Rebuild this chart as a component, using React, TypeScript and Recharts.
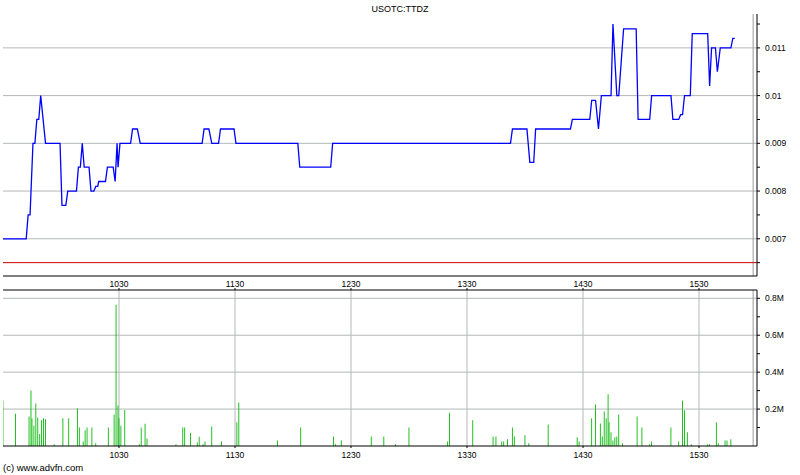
import React from "react";
import { LineChart, Line, BarChart, Bar, XAxis, YAxis, CartesianGrid, ReferenceLine } from "recharts";

// intraday USOTC:TTDZ — price on top, volume below. Times are minutes since midnight.
const priceTime = [
  570, 582, 583, 584, 585.5, 586.5, 587.5, 588.5, 589.5, 592, 599.5, 600.5, 602.5, 603.5, 608, 609, 610, 611, 612,
  614.5, 615.5, 617, 618, 619, 619.5, 623, 624, 627, 628, 629, 629.5, 630.5, 636, 637, 639.5, 641, 673, 674, 676.5,
  678, 681.5, 682.5, 689.5, 690.5, 722.5, 723.5, 739.5, 740.5, 832.5, 833.5, 841, 842.5, 844.5, 845.5, 863.5, 864.5,
  873.5, 874.5, 876.5, 878, 879.5, 884.5, 885.5, 887.5, 888.5, 891, 897.5, 898.5, 904.5, 905.5, 915.5, 916.5, 919.5,
  920.5, 921.5, 922.5, 925.5, 926.5, 934.5, 935.5, 936.5, 938.5, 939.5, 941, 946.5, 947.5, 948.5,
];
const priceValue = [
  0.007, 0.007, 0.0075, 0.0075, 0.009, 0.009, 0.0095, 0.0095, 0.01, 0.009, 0.009, 0.0077, 0.0077, 0.008, 0.008, 0.0085,
  0.0085, 0.009, 0.0085, 0.0085, 0.008, 0.008, 0.0081, 0.0081, 0.0082, 0.0082, 0.0085, 0.0085, 0.0082, 0.009, 0.0085,
  0.009, 0.009, 0.0093, 0.0093, 0.009, 0.009, 0.0093, 0.0093, 0.009, 0.009, 0.0093, 0.0093, 0.009, 0.009, 0.0085,
  0.0085, 0.009, 0.009, 0.0093, 0.0093, 0.0086, 0.0086, 0.0093, 0.0093, 0.0095, 0.0095, 0.0099, 0.0099, 0.0093, 0.01,
  0.01, 0.0115, 0.01, 0.01, 0.0114, 0.0114, 0.0095, 0.0095, 0.01, 0.01, 0.0095, 0.0095, 0.0096, 0.0096, 0.01, 0.01,
  0.0113, 0.0113, 0.0102, 0.011, 0.011, 0.0105, 0.011, 0.011, 0.0112, 0.0112,
];

const volTime = [
  570, 576.5, 583.5, 584.5, 585, 586, 587, 588, 589, 590, 591, 592, 596.5, 601, 604, 608.5, 609.5, 611.5, 612.5, 613.5,
  616, 618, 624.5, 627.5, 628.5, 629.5, 630, 631, 633, 640.5, 641.5, 643.5, 644.5, 659.5, 663, 664, 667, 670.5, 671.5,
  673.5, 674.5, 678, 683, 691, 692, 712, 724, 741, 742, 745, 760.5, 767, 773, 780, 800, 801, 813, 823.5, 825, 828, 829,
  831, 833.5, 834.5, 840, 842, 852, 867, 868, 874.5, 876.5, 879, 880, 881, 882, 883, 883.5, 884.5, 885.5, 886.5, 887.5,
  888.5, 890.5, 898, 900.5, 904.5, 905.5, 915.5, 919.5, 921.5, 922.5, 924, 926, 934.5, 935.5, 939, 940, 943.5, 944.5,
  946.5,
];
const volValue = [
  247000, 175000, 160000, 300000, 150000, 110000, 230000, 155000, 65000, 140000, 150000, 145000, 10000, 150000, 150000,
  205000, 100000, 25000, 85000, 100000, 100000, 15000, 100000, 170000, 765000, 220000, 150000, 110000, 195000, 10000,
  100000, 120000, 40000, 10000, 100000, 100000, 70000, 20000, 50000, 10000, 25000, 105000, 25000, 128000, 235000, 30000,
  100000, 52000, 10000, 30000, 52000, 52000, 10000, 100000, 25000, 180000, 140000, 52000, 52000, 25000, 25000, 36000,
  100000, 52000, 58000, 15000, 117000, 47000, 25000, 150000, 225000, 122000, 52000, 187000, 150000, 280000, 128000,
  74000, 30000, 47000, 52000, 170000, 15000, 160000, 100000, 10000, 25000, 100000, 25000, 247000, 193000, 74000, 10000,
  10000, 10000, 128000, 15000, 30000, 30000, 36000,
];

const hourTicks = [630, 690, 750, 810, 870, 930];
const priceTicks = [0.0065, 0.007, 0.0075, 0.008, 0.0085, 0.009, 0.0095, 0.01, 0.0105, 0.011, 0.0115];
const priceGrid = [0.007, 0.008, 0.009, 0.01, 0.011];
const volTicks = [100000, 200000, 300000, 400000, 500000, 600000, 700000, 800000];
const volGrid = [200000, 400000, 600000, 800000];
const prevClose = 0.0065;
const closeMarker = 958;

const FONT = "'Liberation Sans', Arial, sans-serif";
const GRID = "#b4b8b8";
const tick = { fontSize: 8.5, fill: "#000", fontFamily: FONT } as const;
const ink = { stroke: "#000" };
const X_DOMAIN: [number, number] = [570, 960];

const hhmm = (m: number) => `${Math.floor(m / 60)}${String(m % 60).padStart(2, "0")}`;
const priceFmt = (v: number) => (Math.abs(v * 1000 - Math.round(v * 1000)) < 1e-6 ? String(+v.toFixed(3)) : "");
const volFmt = (v: number) => (v % 200000 === 0 ? `${v / 1e6}M` : "");

const priceData = priceTime.map((t, i) => ({ t, p: priceValue[i] }));
const volData = volTime.map((t, i) => ({ t, v: volValue[i] }));

export default function App() {
  return (
    <div style={{ position: "absolute", left: 0, top: 0, width: 800, height: 475, background: "#fff", fontFamily: FONT }}>
      <div style={{ position: "absolute", left: 0, top: 4, width: 800, textAlign: "center", fontSize: 9, lineHeight: "10px" }}>
        USOTC:TTDZ
      </div>

      <div style={{ position: "absolute", left: 0, top: 0 }}>
        <LineChart width={800} height={290} data={priceData} margin={{ top: 14, right: 0, bottom: 0, left: 3 }}>
          <CartesianGrid horizontalValues={priceGrid} verticalValues={hourTicks} stroke={GRID} />
          <XAxis dataKey="t" type="number" domain={X_DOMAIN} ticks={hourTicks} allowDataOverflow
            tick={false} tickSize={2} height={14} axisLine={ink} tickLine={ink} />
          <XAxis xAxisId="top" dataKey="t" type="number" orientation="top" domain={X_DOMAIN} allowDataOverflow
            ticks={hourTicks} tick={false} tickLine={false} height={0} axisLine={ink} />
          <YAxis orientation="right" type="number" domain={[0.00622, 0.01171]} ticks={priceTicks} allowDataOverflow
            tickFormatter={priceFmt} tick={tick} tickSize={3} tickMargin={5} width={43} axisLine={ink} tickLine={ink} />
          <YAxis yAxisId="l" orientation="left" mirror type="number" domain={[0.00622, 0.01171]} ticks={priceTicks}
            allowDataOverflow tick={false} tickSize={2} width={0} axisLine={ink} tickLine={ink} />
          <ReferenceLine x={closeMarker} stroke="#999" />
          <ReferenceLine y={prevClose} stroke="#d40000" />
          <Line dataKey="p" type="linear" stroke="#0000ff" strokeWidth={1.3} dot={false} isAnimationActive={false} />
        </LineChart>
      </div>

      <div style={{ position: "absolute", left: 0, top: 276 }}>
        <BarChart width={800} height={199} data={volData} margin={{ top: 0, right: 0, bottom: 13, left: 3 }}>
          <CartesianGrid horizontalValues={volGrid} verticalValues={hourTicks} stroke={GRID} />
          <XAxis dataKey="t" type="number" domain={X_DOMAIN} ticks={hourTicks} tickFormatter={hhmm} allowDataOverflow
            tick={tick} tickSize={2} tickMargin={4} height={16} axisLine={ink} tickLine={ink} />
          <XAxis xAxisId="top" dataKey="t" type="number" orientation="top" domain={X_DOMAIN} ticks={hourTicks}
            tickFormatter={hhmm} allowDataOverflow tick={tick} tickSize={2} tickMargin={1} height={14} axisLine={ink} tickLine={ink} />
          <YAxis orientation="right" type="number" domain={[0, 845000]} ticks={volTicks} allowDataOverflow
            tickFormatter={volFmt} tick={tick} tickSize={3} tickMargin={5} width={43} axisLine={ink} tickLine={ink} />
          <YAxis yAxisId="l" orientation="left" mirror type="number" domain={[0, 845000]} ticks={volTicks}
            allowDataOverflow tick={false} tickSize={2} width={0} axisLine={ink} tickLine={ink} />
          <ReferenceLine x={closeMarker} stroke="#999" />
          <Bar dataKey="v" fill="#00b800" barSize={2} isAnimationActive={false} />
        </BarChart>
      </div>

      <div style={{ position: "absolute", left: 3, top: 462, fontSize: 9.5, lineHeight: "12px" }}>(c) www.advfn.com</div>
    </div>
  );
}
